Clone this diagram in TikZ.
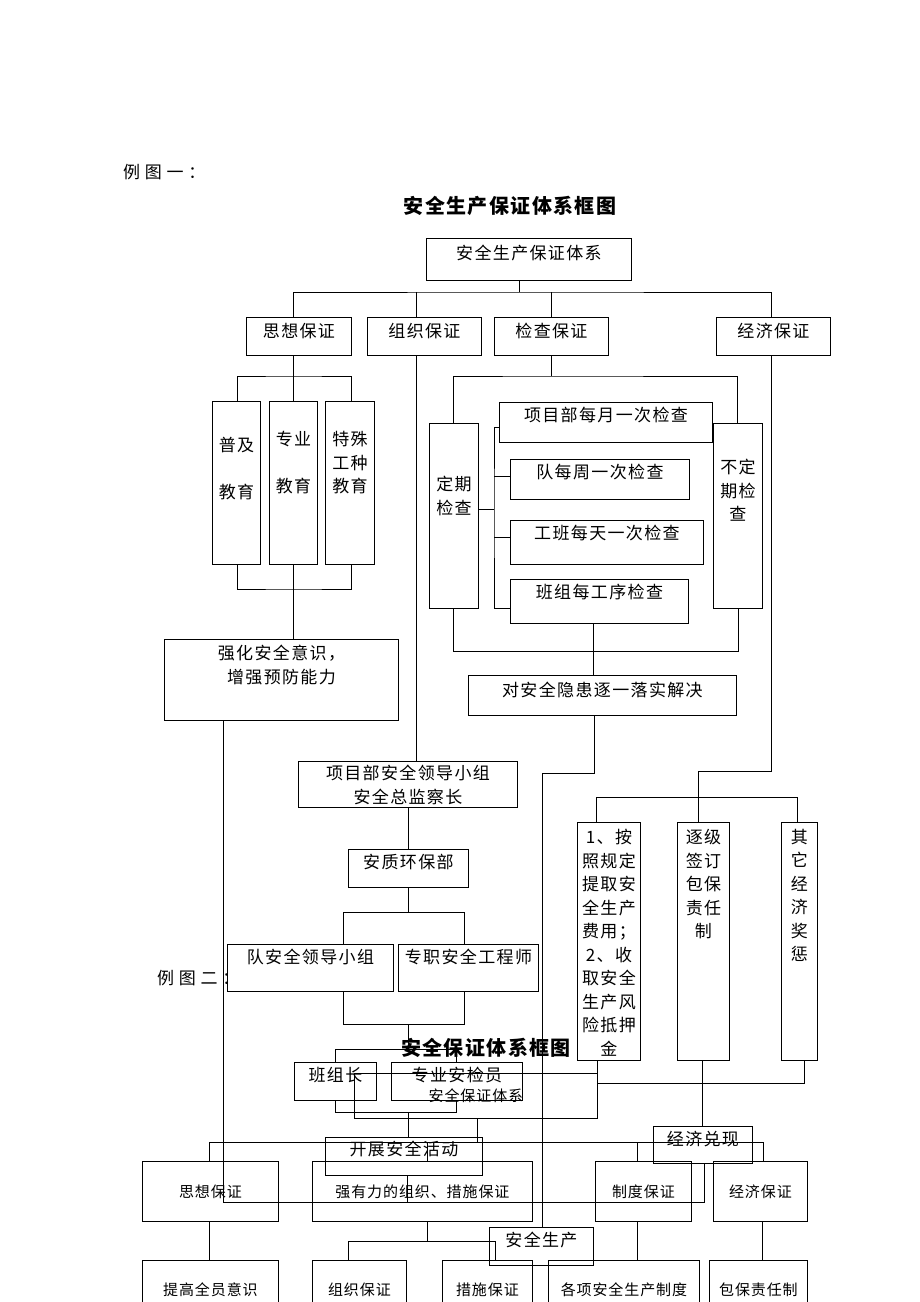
\documentclass[tikz,border=0pt]{standalone}
\usepackage{fontspec}
\newfontfamily\cjk[LetterSpace=8]{Noto Sans CJK SC}
\newfontfamily\cjksmall[LetterSpace=6]{Noto Sans CJK SC}
\newfontfamily\cjktitle[LetterSpace=7]{Noto Sans CJK SC}
\newfontfamily\cjkwide[LetterSpace=28]{Noto Sans CJK SC}

\begin{document}
\begin{tikzpicture}[x=1pt, y=-1pt,
    box/.style={draw, rectangle, anchor=north west, inner sep=0pt, line width=0.9pt},
    txt/.style={anchor=north, inner sep=0pt, align=center, font=\cjk\fontsize{17}{23.5}\selectfont},
    small/.style={font=\cjksmall\fontsize{15}{17}\selectfont},
    title/.style={font=\cjktitle\bfseries\fontsize{20}{24}\selectfont, inner sep=0pt},
    caption/.style={font=\cjkwide\fontsize{17}{20}\selectfont, anchor=west, inner sep=0pt},
    link/.style={line width=0.9pt}
]
\useasboundingbox (0,0) rectangle (920,1302);

% headings
\node[caption] (fig1) at (123,172) {例图一：};
\node[title] (title1) at (510,206) {安全生产保证体系框图};
\node[caption] (fig2) at (157,978) {例图二：};

% first chart: top levels
\node[box, minimum width=205, minimum height=42, label={[txt,yshift=-7]north:安全生产保证体系}] (sys) at (426,238) {};
\node[box, minimum width=105, minimum height=38, label={[txt,yshift=-6]north:思想保证}] (sx) at (246,317) {};
\node[box, minimum width=114, minimum height=38, label={[txt,yshift=-6]north:组织保证}] (zz) at (367,317) {};
\node[box, minimum width=114, minimum height=38, label={[txt,yshift=-6]north:检查保证}] (jc) at (494,317) {};
\node[box, minimum width=114, minimum height=38, label={[txt,yshift=-6]north:经济保证}] (jj) at (716,317) {};

% education
\node[box, minimum width=48, minimum height=163, label={[txt,yshift=-36]north:{普及\\[23.5pt]教育}}] (pj) at (212,401) {};
\node[box, minimum width=48, minimum height=163, label={[txt,yshift=-30]north:{专业\\[23.5pt]教育}}] (zy) at (269,401) {};
\node[box, minimum width=49, minimum height=163, label={[txt,yshift=-30]north:{特殊\\工种\\教育}}] (ts) at (325,401) {};
\node[box, minimum width=234, minimum height=81, label={[txt,yshift=-6]north:{强化安全意识，\\增强预防能力}}] (qh) at (164,639) {};

% inspection
\node[box, minimum width=49, minimum height=185, label={[txt,yshift=-53]north:{定期\\检查}}] (dq) at (429,423) {};
\node[box, minimum width=49, minimum height=185, label={[txt,yshift=-36]north:{不定\\期检\\查}}] (bdq) at (713,423) {};
\node[box, minimum width=213, minimum height=40, label={[txt,yshift=-5]north:项目部每月一次检查}] (xm) at (499,402) {};
\node[box, minimum width=179, minimum height=40, label={[txt,yshift=-5]north:队每周一次检查}] (dm) at (510,459) {};
\node[box, minimum width=193, minimum height=44, label={[txt,yshift=-5]north:工班每天一次检查}] (gb) at (510,520) {};
\node[box, minimum width=178, minimum height=44, label={[txt,yshift=-5]north:班组每工序检查}] (bz) at (510,579) {};
\node[box, minimum width=268, minimum height=40, label={[txt,yshift=-7]north:对安全隐患逐一落实解决}] (ya) at (468,675) {};

% organisation
\node[box, minimum width=219, minimum height=46, label={[txt,yshift=-4]north:{项目部安全领导小组\\安全总监察长}}] (ld) at (298,761) {};
\node[box, minimum width=120, minimum height=38, label={[txt,yshift=-5]north:安质环保部}] (az) at (348,849) {};
\node[box, minimum width=166, minimum height=47, label={[txt,yshift=-5]north:队安全领导小组}] (dl) at (227,944) {};
\node[box, minimum width=140, minimum height=47, label={[txt,yshift=-5]north:专职安全工程师}] (zg) at (398,944) {};
\node[box, minimum width=82, minimum height=38, label={[txt,yshift=-5]north:班组长}] (bzz) at (294,1062) {};
\node[box, minimum width=131, minimum height=38, label={[txt,yshift=-5]north:专业安检员}] (zj) at (391,1062) {};
\node[box, minimum width=157, minimum height=38, label={[txt,yshift=-4]north:开展安全活动}] (kz) at (325,1137) {};

% economy
\node[box, minimum width=63, minimum height=238, label={[txt,yshift=-7]north:{1、按\\照规定\\提取安\\全生产\\费用；\\2、收\\取安全\\生产风\\险抵押\\金}}] (fy) at (577,822) {};
\node[box, minimum width=52, minimum height=238, label={[txt,yshift=-7]north:{逐级\\签订\\包保\\责任\\制}}] (bb) at (677,822) {};
\node[box, minimum width=36, minimum height=238, label={[txt,yshift=-7]north:{其\\它\\经\\济\\奖\\惩}}] (qt) at (781,822) {};
\node[box, minimum width=99, minimum height=37, label={[txt,yshift=-5]north:经济兑现}] (dx) at (653,1126) {};

% second chart
\node[title] (title2) at (486,1048) {安全保证体系框图};
\node[box, small, minimum width=243, minimum height=45] (sys2) at (354,1073) {安全保证体系};
\node[box, small, minimum width=136, minimum height=60] (sx2) at (142,1161) {思想保证};
\node[box, small, minimum width=220, minimum height=60] (qyl) at (312,1161) {强有力的组织、措施保证};
\node[box, small, minimum width=96, minimum height=60] (zd) at (595,1161) {制度保证};
\node[box, small, minimum width=94, minimum height=60] (jj2) at (713,1161) {经济保证};
\node[box, minimum width=104, minimum height=38, label={[txt,yshift=-5]north:安全生产}] (aq) at (489,1227) {};
\node[box, small, minimum width=136, minimum height=58] (tg) at (142,1260) {提高全员意识};
\node[box, small, minimum width=94, minimum height=58] (zzb) at (312,1260) {组织保证};
\node[box, small, minimum width=90, minimum height=58] (csb) at (442,1260) {措施保证};
\node[box, small, minimum width=151, minimum height=58] (gx) at (548,1260) {各项安全生产制度};
\node[box, small, minimum width=98, minimum height=58] (bbz) at (709,1260) {包保责任制};

% connectors: first level
\coordinate (b1) at (519,292);
\draw[link] (sys.south -| b1) -- (b1);
\draw[link] (sx.north -| 293,0) |- (b1) -| (jj.north -| 771,0);
\draw[link] (zz.north -| 416,0) -- (b1 -| 416,0);
\draw[link] (jc.north -| 551,0) -- (b1 -| 551,0);

% education links
\coordinate (b2) at (293,376);
\draw[link] (sx.south -| b2) -- (b2);
\draw[link] (pj.north -| 237,0) |- (b2) -| (ts.north -| 351,0);
\draw[link] (zy.north -| b2) -- (b2);
\coordinate (b3) at (293,589);
\draw[link] (pj.south -| 237,0) |- (b3) -| (ts.south -| 351,0);
\draw[link] (zy.south -| b3) -- (qh.north -| b3);
\coordinate (b4) at (704,1202);
\draw[link] (qh.south -| 223,0) |- (b4) -- (dx.south -| b4);

% organisation links
\draw[link] (zz.south -| 416,0) -- (ld.north -| 416,0);
\draw[link] (ld.south -| 408,0) -- (az.north -| 408,0);
\coordinate (b5) at (408,912);
\draw[link] (az.south -| b5) -- (b5);
\draw[link] (dl.north -| 343,0) |- (b5) -| (zg.north -| 464,0);
\coordinate (b6) at (408,1024);
\draw[link] (dl.south -| 343,0) |- (b6) -| (zg.south -| 464,0);
\coordinate (b7) at (408,1049);
\draw[link] (b6) -- (b7);
\draw[link] (bzz.north -| 335,0) |- (b7) -| (zj.north -| 456,0);
\coordinate (b8) at (408,1112);
\draw[link] (bzz.south -| 335,0) |- (b8) -| (zj.south -| 456,0);
\draw[link] (b8) -- (kz.north -| b8);
\draw[link] (kz.south -| 407,0) -- (b4 -| 407,0);

% inspection links
\coordinate (c1) at (551,376);
\draw[link] (jc.south -| c1) -- (c1);
\draw[link] (dq.north -| 453,0) |- (c1) -| (bdq.north -| 737,0);
\coordinate (c2) at (494,509);
\draw[link] (dq.east |- c2) -- (c2);
\draw[link] (xm.west |- 0,427) -| (c2) |- (bz.west |- 0,608);
\draw[link] (dm.west |- 0,476) -- (c2 |- 0,476);
\draw[link] (gb.west |- 0,537) -- (c2 |- 0,537);
\coordinate (c3) at (593,651);
\draw[link] (dq.south -| 453,0) |- (c3) -| (bdq.south -| 738,0);
\draw[link] (bz.south -| c3) -- (ya.north -| c3);
\coordinate (c4) at (542,773);
\draw[link] (ya.south -| 594,0) |- (c4) -- (aq.north -| c4);

% economy links
\coordinate (e1) at (698,771);
\draw[link] (jj.south -| 771,0) |- (e1);
\coordinate (e2) at (698,797);
\draw[link] (e1) -- (e2);
\draw[link] (fy.north -| 596,0) |- (e2) -| (qt.north -| 797,0);
\draw[link] (e2) -- (bb.north -| e2);
\coordinate (e3) at (702,1083);
\draw[link] (fy.south -| 597,0) |- (e3) -| (qt.south -| 804,0);
\draw[link] (bb.south -| e3) -- (dx.north -| e3);

% second chart links
\coordinate (f1) at (477,1142);
\draw[link] (sys2.south -| f1) -- (f1);
\draw[link] (sx2.north -| 209,0) |- (f1) -| (jj2.north -| 763,0);
\draw[link] (qyl.north -| 427,0) -- (f1 -| 427,0);
\draw[link] (zd.north -| 637,0) -- (f1 -| 637,0);
\draw[link] (sx2.south -| 209,0) -- (tg.north -| 209,0);
\coordinate (f2) at (427,1241);
\draw[link] (qyl.south -| f2) -- (f2);
\draw[link] (zzb.north -| 348,0) |- (f2) -| (csb.north -| 495,0);
\draw[link] (zd.south -| 637,0) -- (gx.north -| 637,0);
\draw[link] (jj2.south -| 762,0) -- (bbz.north -| 762,0);

\end{tikzpicture}
\end{document}
